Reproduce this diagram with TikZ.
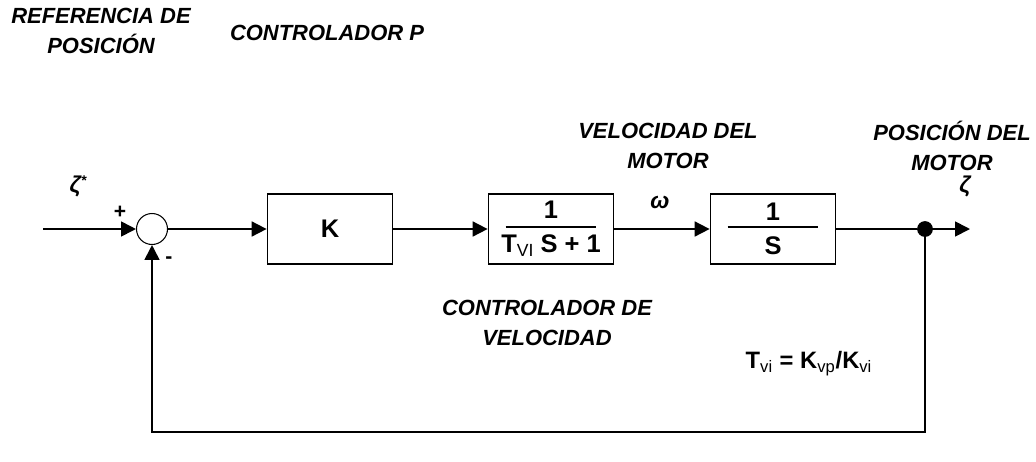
\documentclass[tikz,border=0pt]{standalone}
\usepackage{fontspec}
\setmainfont{Liberation Sans}
\usetikzlibrary{arrows.meta}

\begin{document}
\begin{tikzpicture}[x=0.02cm, y=-0.02cm,
        blk/.style={draw, line width=1pt, minimum width=2.5cm,
          minimum height=1.4cm, inner sep=0pt, align=center,
          font=\fontsize{14.5}{17}\selectfont\bfseries},
        fracbox/.style={blk, path picture={
            \draw[line width=0.9pt]
              ([xshift=-0.91cm, yshift=1.2pt]path picture bounding box.center) --
              ([xshift=0.91cm, yshift=1.2pt]path picture bounding box.center);}},
        sumnode/.style={draw, circle, line width=0.6pt, minimum size=0.62cm,
          inner sep=0pt},
        dotnode/.style={circle, fill, minimum size=9pt, inner sep=0pt},
        arr/.style={-{Triangle[length=8.5pt, width=8.5pt]}, line width=1pt},
        lbl/.style={font=\fontsize{12.5}{17}\selectfont\bfseries\itshape,
          align=center},
        sig/.style={font=\fontsize{13}{15}\selectfont\bfseries\itshape},
        sgn/.style={font=\fontsize{12}{14}\selectfont\bfseries},
      ]
        \useasboundingbox (0,0) rectangle (1036,461);
        \def\ly{229}  % main signal line

        % blocks
        \coordinate (in) at (43,\ly);
        \node[sumnode] (sum) at (152,\ly) {};
        \node[blk] (kp) at (330,\ly) {K};
        \node[fracbox] (vc) at (551,\ly)
          {1\\[2.3pt]T\raisebox{-2.5pt}{\smash{\mdseries\fontsize{10}{10}\selectfont VI}} S + 1};
        \node[fracbox] (int) at (773,\ly) {1\\[2.3pt]S};
        \node[dotnode] (pt) at (925,\ly) {};
        \coordinate (out) at (970,\ly);
        \coordinate (fb) at (152,432);

        % signals
        \node[sig] (zref) at (78,186) {ζ\raisebox{4pt}{\fontsize{8}{8}\selectfont *}};
        \node[sgn] (plus) at (120,212) {+};
        \node[sgn] (minus) at (169,260) {-};
        \node[sig] (w) at (660,202) {ω};
        \node[sig] (z) at (965,186) {ζ};

        % connectors
        \draw[arr] (in) -- (sum);
        \draw[arr] (sum) -- (kp);
        \draw[arr] (kp) -- (vc);
        \draw[arr] (vc) -- (int);
        \draw[line width=1pt] (int) -- (pt);
        \draw[arr] (pt) -- (out);
        \draw[arr] (pt) |- (fb) -- (sum);

        % labels
        \node[lbl] (lref) at (101,31) {REFERENCIA DE\\POSICIÓN};
        \node[lbl] (lkp) at (327,33) {CONTROLADOR P};
        \node[lbl] (lvel) at (668,146) {VELOCIDAD DEL\\MOTOR};
        \node[lbl] (lpos) at (952,146) {POSICIÓN DEL\\MOTOR};
        \node[lbl] (lvc) at (547,323) {CONTROLADOR DE\\VELOCIDAD};
        \node[font=\fontsize{13.5}{15}\selectfont\bfseries] (tvi) at (809,364)
          {T\textsubscript{\mdseries vi} = K\textsubscript{\mdseries vp}/K\textsubscript{\mdseries vi}};
      \end{tikzpicture}
\end{document}
